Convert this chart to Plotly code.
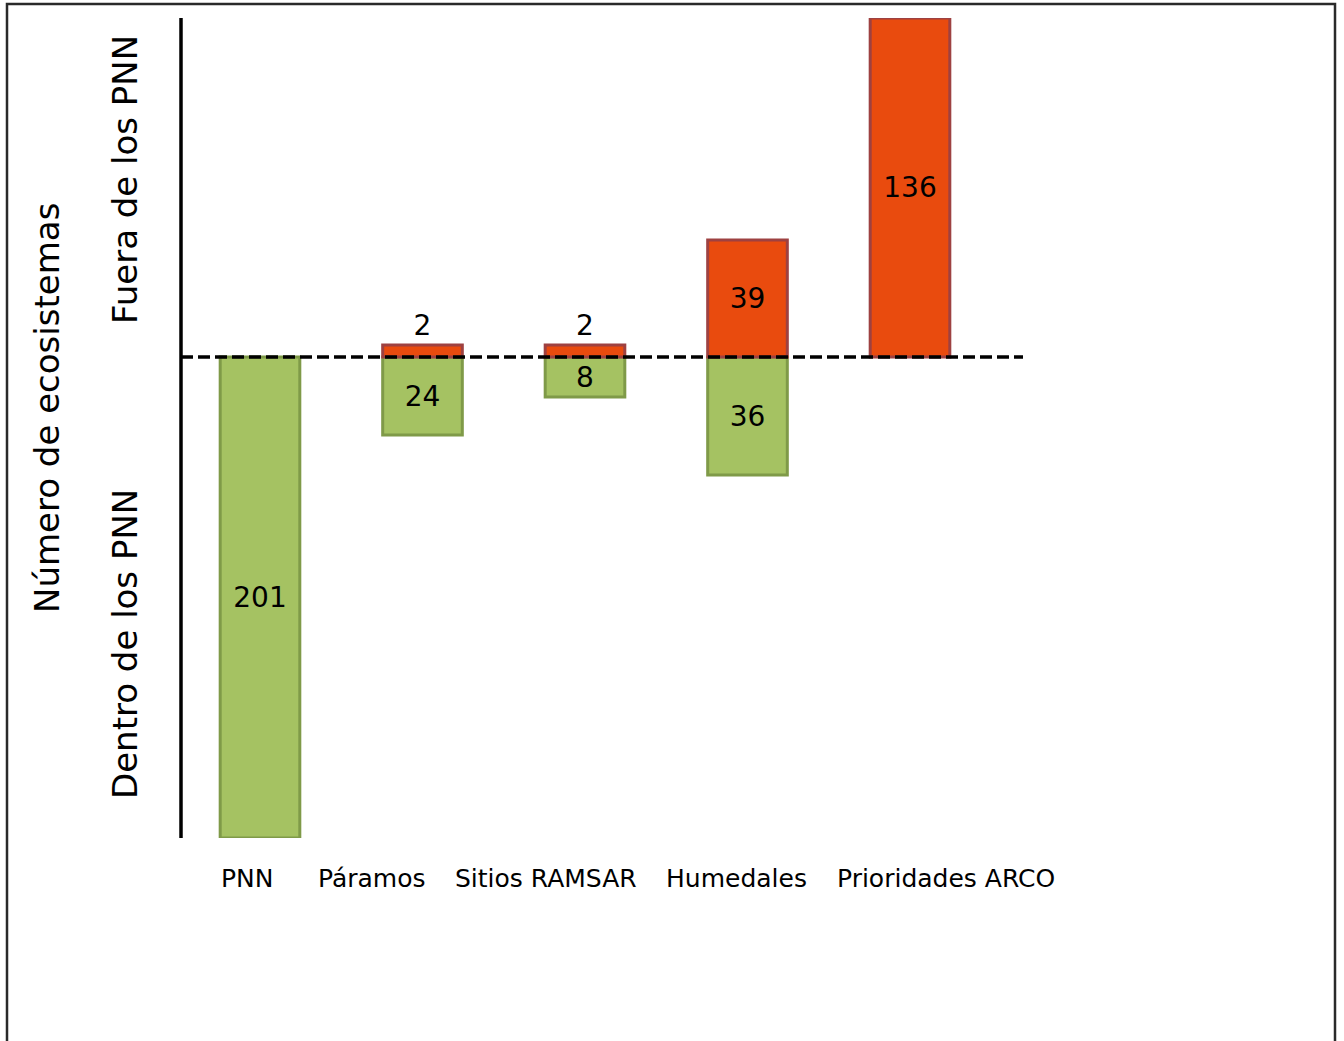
import plotly.graph_objects as go

# ---- data ----
categorias = ["PNN", "Páramos", "Sitios RAMSAR", "Humedales", "Prioridades ARCO"]
# counts shown as labels
fuera_pnn = [None, 2, 2, 39, 136]      # ecosystems outside PNN
dentro_pnn = [201, 24, 8, 36, None]    # ecosystems inside PNN
# bar lengths as drawn in the figure (arbitrary units, axis has no ticks)
fuera_largo = [None, 12, 12, 117, 339]
dentro_largo = [481, 78, 40, 118, None]

# ---- layout helpers (pixel geometry) ----
W, H = 1344, 1041
L, R, T, B = 181, 1023, 18, 838
def px(p):
    return (p - L) / (R - L)
def py(p):
    return (B - p) / (B - T)

FONT = "'DejaVu Sans', Lato, sans-serif"
RED, RED_LINE = "#E94B0E", "#9E4141"
GREEN, GREEN_LINE = "#A5C262", "#7F9A48"

fig = go.Figure()
fig.add_trace(go.Bar(
    x=categorias, y=[None if v is None else -v for v in dentro_largo],
    text=[("" if v is None else str(v)) for v in dentro_pnn],
    textposition="inside", insidetextanchor="middle", textangle=0,
    textfont=dict(color="black", size=28, family=FONT),
    marker=dict(color=GREEN, line=dict(color=GREEN_LINE, width=3)),
    width=0.49, hoverinfo="skip", cliponaxis=False,
))
fig.add_trace(go.Bar(
    x=categorias, y=fuera_largo,
    text=[("" if v is None else str(v)) for v in fuera_pnn],
    textposition=["inside", "outside", "outside", "inside", "inside"],
    insidetextanchor="middle", textangle=0,
    textfont=dict(color="black", size=28, family=FONT),
    marker=dict(color=RED, line=dict(color=RED_LINE, width=3)),
    width=0.49, hoverinfo="skip", cliponaxis=False,
))

# category spacing: 162.5 px per category, first centre at 260 px
step = 162.5
x0 = -(260 - L) / step
x1 = x0 + (R - L) / step

fig.update_layout(
    width=W, height=H,
    margin=dict(l=L, r=W - R, t=T, b=H - B),
    barmode="relative",
    paper_bgcolor="white", plot_bgcolor="white",
    showlegend=False,
    uniformtext=dict(minsize=28, mode="show"),
    xaxis=dict(range=[x0, x1], showticklabels=False, showgrid=False,
               zeroline=False, showline=False, ticks=""),
    yaxis=dict(range=[-(B - 357), 357 - T], showticklabels=False,
               showgrid=False, zeroline=False, showline=False, ticks=""),
    font=dict(family=FONT, color="black"),
)

shapes = []
# outer frame
shapes.append(dict(type="rect", xref="paper", yref="paper",
                   x0=px(7), x1=px(1335), y0=py(1050), y1=py(4),
                   line=dict(color="#2a2a2a", width=2.5), layer="below"))
# vertical axis line
shapes.append(dict(type="line", xref="paper", yref="paper",
                   x0=px(181), x1=px(181), y0=py(838), y1=py(18),
                   line=dict(color="black", width=3.5)))
# dashed zero line
shapes.append(dict(type="line", xref="paper", yref="y",
                   x0=0, x1=1, y0=0, y1=0,
                   line=dict(color="black", width=3.5, dash="12px,5px")))
fig.update_layout(shapes=shapes)

annots = []
# category labels (text row under the chart)
label_cx = [247, 372, 546, 736, 946]
for cat, cx in zip(categorias, label_cx):
    annots.append(dict(text=cat, xref="paper", yref="paper",
                       x=px(cx), y=py(878), showarrow=False,
                       xanchor="center", yanchor="middle",
                       font=dict(size=25, family=FONT, color="black")))
# axis titles
annots.append(dict(text="Número de ecosistemas", xref="paper", yref="paper",
                   x=px(47), y=py(408), showarrow=False, textangle=-90,
                   xanchor="center", yanchor="middle",
                   font=dict(size=34, family=FONT, color="black")))
annots.append(dict(text="Fuera de los PNN", xref="paper", yref="paper",
                   x=px(125), y=py(180), showarrow=False, textangle=-90,
                   xanchor="center", yanchor="middle",
                   font=dict(size=34, family=FONT, color="black")))
annots.append(dict(text="Dentro de los PNN", xref="paper", yref="paper",
                   x=px(125), y=py(644), showarrow=False, textangle=-90,
                   xanchor="center", yanchor="middle",
                   font=dict(size=34, family=FONT, color="black")))
fig.update_layout(annotations=annots)

fig.write_html("out.html")
